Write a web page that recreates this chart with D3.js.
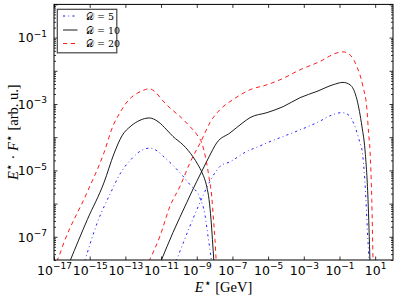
<!DOCTYPE html>
<html><head><meta charset="utf-8">
<script src="https://cdn.jsdelivr.net/npm/d3@7/dist/d3.min.js"></script>
<style>body{margin:0;background:#fff}svg{display:block}</style>
</head><body>
<svg id="c" width="399" height="301"></svg>
<script>
// ---- data (energy E* in GeV, E*·F* in arb. u.) ----
const seriesNames = ["\u{1D49F} = 5", "\u{1D49F} = 10", "\u{1D49F} = 20"];
const xTicks = [1e-17,1e-15,1e-13,1e-11,1e-9,1e-7,1e-5,1e-3,1e-1,1e1];
const yMajorTicks = [1,1e-1,1e-2,1e-3,1e-4,1e-5,1e-6,1e-7];
const yTickLabels = [1e-1,1e-3,1e-5,1e-7];

const d5Low = [[5.25e-16,1.82e-8],[2.69e-15,2.69e-7],[1.51e-14,2.14e-6],[5.50e-14,8.51e-6],[2.0e-13,2.09e-5],[8.51e-13,4.07e-5],[2.40e-12,4.68e-5],[5.89e-12,3.89e-5],[1.66e-11,2.40e-5],[1.15e-10,8.51e-6],[4.17e-10,3.72e-6],[1.51e-9,1.48e-6],[2.88e-9,4.68e-7],[4.27e-9,1.05e-7],[5.50e-9,4.17e-8],[6.76e-9,1.82e-8]];
const d5High = [[6.92e-11,1.82e-8],[4.17e-10,2.09e-7],[1.51e-9,1.07e-6],[5.50e-9,4.68e-6],[2.0e-8,1.32e-5],[7.41e-8,1.82e-5],[6.31e-7,3.72e-5],[2.69e-6,5.13e-5],[8.71e-6,6.76e-5],[6.92e-5,1.05e-4],[6.17e-4,1.66e-4],[5.50e-3,2.75e-4],[4.37e-2,4.79e-4],[0.135,5.50e-4],[0.302,4.79e-4],[0.741,2.09e-4],[1.41,6.76e-5],[1.82,4.17e-5],[2.69,4.27e-6],[3.98,6.76e-8],[4.57,1.82e-8]];
const d10Low = [[7.76e-17,1.82e-8],[7.41e-16,3.31e-7],[6.31e-15,4.27e-6],[2.29e-14,3.16e-5],[6.46e-14,1.10e-4],[2.09e-13,2.19e-4],[6.61e-13,3.24e-4],[2.19e-12,3.80e-4],[6.76e-12,2.95e-4],[2.09e-11,1.66e-4],[4.68e-11,1.05e-4],[1.70e-10,5.89e-5],[6.17e-10,2.57e-5],[1.17e-9,1.48e-5],[2.0e-9,8.51e-6],[3.63e-9,3.24e-6],[4.90e-9,1.32e-6],[6.31e-9,3.31e-7],[7.59e-9,8.32e-8],[9.12e-9,1.82e-8]];
const d10High = [[9.77e-12,1.82e-8],[4.68e-11,1.35e-7],[2.75e-10,1.07e-6],[1.0e-9,4.68e-6],[1.91e-9,9.33e-6],[4.90e-9,2.57e-5],[1.32e-8,6.76e-5],[7.41e-8,1.35e-4],[3.89e-7,2.75e-4],[9.77e-7,3.89e-4],[8.71e-6,5.50e-4],[6.92e-5,8.32e-4],[6.17e-4,1.55e-3],[5.50e-3,2.40e-3],[4.37e-2,3.80e-3],[0.158,4.47e-3],[0.389,3.80e-3],[0.955,1.35e-3],[1.82,2.09e-4],[2.69,4.17e-5],[3.98,1.32e-6],[5.13,1.82e-8]];
const d20Low = [[1.41e-17,1.82e-8],[1.91e-17,2.63e-8],[3.63e-17,6.76e-8],[7.08e-16,2.14e-6],[6.31e-15,3.39e-5],[2.04e-14,2.21e-4],[5.01e-14,5.50e-4],[1.41e-13,1.26e-3],[4.47e-13,2.09e-3],[9.77e-13,2.57e-3],[2.19e-12,2.88e-3],[4.57e-12,2.34e-3],[1.12e-11,1.35e-3],[3.16e-11,7.59e-4],[1.15e-10,4.22e-4],[4.17e-10,2.09e-4],[1.05e-9,1.17e-4],[2.0e-9,6.31e-5],[3.31e-9,2.09e-5],[4.90e-9,6.03e-6],[6.92e-9,1.66e-6],[8.71e-9,3.31e-7],[1.05e-8,8.32e-8],[1.23e-8,1.82e-8]];
const d20High = [[2.09e-12,1.82e-8],[8.71e-12,1.05e-7],[3.16e-11,8.32e-7],[1.15e-10,3.31e-6],[4.17e-10,1.70e-5],[1.91e-9,8.32e-5],[5.50e-9,2.75e-4],[2.0e-8,6.76e-4],[1.07e-7,1.35e-3],[9.77e-7,2.69e-3],[8.71e-6,3.80e-3],[4.68e-5,5.37e-3],[6.17e-4,1.07e-2],[8.13e-3,1.91e-2],[7.24e-2,3.47e-2],[0.158,3.72e-2],[0.389,3.02e-2],[0.955,1.32e-2],[2.09,3.31e-3],[3.47,6.76e-4],[4.27,1.35e-4],[5.13,4.17e-5],[6.46,1.32e-6],[7.59,1.82e-8]];

// ---- layout ----
const X0 = 54, X1 = 393, Y0 = 4.4, Y1 = 260;
const svg = d3.select("#c");
const x = d3.scaleLog().domain([1e-17, 1e2]).range([X0, X1]);
const y = d3.scaleLog().domain([2e-8, 1]).range([Y1, Y0]);

const styles = [
  {color: "#0000ff", dash: "2.2,3.2,0.8,3.2"},
  {color: "#000000", dash: null},
  {color: "#ff0000", dash: "4.2,3.6"}
];
const curves = [[d5Low, d5High], [d10Low, d10High], [d20Low, d20High]];

svg.append("defs").append("clipPath").attr("id", "pc")
  .append("rect").attr("x", X0).attr("y", Y0).attr("width", X1 - X0).attr("height", Y1 - Y0);

const line = d3.line().x(d => x(d[0])).y(d => y(d[1])).curve(d3.curveMonotoneX);
const gLines = svg.append("g").attr("clip-path", "url(#pc)");
curves.forEach((pair, i) => {
  pair.forEach(data => {
    gLines.append("path").attr("d", line(data)).attr("fill", "none")
      .attr("stroke", styles[i].color).attr("stroke-width", 0.9)
      .attr("stroke-dasharray", styles[i].dash);
  });
});

function supLabel(text, v) {
  const e = Math.round(Math.log10(v));
  text.text(null);
  text.append("tspan").text("10");
  text.append("tspan").attr("dy", -5.5).attr("font-size", 9).text((e < 0 ? "\u2212" : "") + Math.abs(e));
}

function styleAxis(g) {
  g.attr("font-family", "DejaVu Sans").attr("font-size", 12.5);
  g.select(".domain").remove();
  g.selectAll(".tick line").attr("stroke", "#000").attr("stroke-width", 0.8);
  g.selectAll(".tick text").attr("fill", "#000");
}

// bottom
const gb = svg.append("g").attr("transform", `translate(0,${Y1})`)
  .call(d3.axisBottom(x).tickValues(xTicks).tickSizeInner(-3.5).tickSizeOuter(0).tickPadding(0));
styleAxis(gb);
gb.selectAll(".tick text").attr("y", 14.5).attr("dy", null).each(function(d) { supLabel(d3.select(this), d); });
// top
const gt = svg.append("g").attr("transform", `translate(0,${Y0})`)
  .call(d3.axisTop(x).tickValues(xTicks).tickSizeInner(-3.5).tickSizeOuter(0).tickFormat(""));
styleAxis(gt);
// left
const gl = svg.append("g").attr("transform", `translate(${X0},0)`)
  .call(d3.axisLeft(y).tickValues(yMajorTicks).tickSizeInner(-3.5).tickSizeOuter(0).tickPadding(0).tickFormat(""));
styleAxis(gl);
gl.selectAll(".tick text").attr("x", -7).attr("dy", "0.34em")
  .each(function(d) { if (yTickLabels.includes(d)) supLabel(d3.select(this), d); });
// right
const gr = svg.append("g").attr("transform", `translate(${X1},0)`)
  .call(d3.axisRight(y).tickValues(yMajorTicks).tickSizeInner(-3.5).tickSizeOuter(0).tickFormat(""));
styleAxis(gr);
// minor y ticks
const yMinor = [];
for (let k = -8; k < 0; k++) for (let m = 2; m <= 9; m++) { const v = m * Math.pow(10, k); if (v >= 2e-8 && v <= 1) yMinor.push(v); }
[[d3.axisLeft, X0], [d3.axisRight, X1]].forEach(([ax, tx]) => {
  const g = svg.append("g").attr("transform", `translate(${tx},0)`)
    .call(ax(y).tickValues(yMinor).tickSizeInner(-2).tickSizeOuter(0).tickFormat(""));
  styleAxis(g);
});

// frame
svg.append("rect").attr("x", X0).attr("y", Y0).attr("width", X1 - X0).attr("height", Y1 - Y0)
  .attr("fill", "none").attr("stroke", "#000").attr("stroke-width", 1);

// axis labels
const xl = svg.append("text").attr("x", (X0 + X1) / 2).attr("y", 292).attr("text-anchor", "middle")
  .attr("font-family", "Liberation Serif").attr("font-size", 14.5).attr("fill", "#000");
xl.append("tspan").attr("font-style", "italic").text("E");
xl.append("tspan").attr("dy", -5.5).attr("font-size", 12).text("\u22C6");
xl.append("tspan").attr("dy", 5.5).text(" [GeV]");

const yl = svg.append("text").attr("transform", `translate(18,${(Y0 + Y1) / 2}) rotate(-90)`)
  .attr("text-anchor", "middle").attr("font-family", "Liberation Serif").attr("font-size", 14.5).attr("fill", "#000");
yl.append("tspan").attr("font-style", "italic").text("E");
yl.append("tspan").attr("dy", -5.5).attr("font-size", 12).text("\u22C6");
yl.append("tspan").attr("dy", 5.5).text(" \u00B7 ");
yl.append("tspan").attr("font-style", "italic").text("F");
yl.append("tspan").attr("dy", -5.5).attr("font-size", 12).text("\u22C6");
yl.append("tspan").attr("dy", 5.5).text(" [arb. u.]");

// legend
const lg = svg.append("g");
lg.append("rect").attr("x", 57.3).attr("y", 9.3).attr("width", 59.5).attr("height", 43.5)
  .attr("fill", "#fff").attr("stroke", "#444").attr("stroke-width", 1.2);
const rowY = [16, 30, 43.5];
seriesNames.forEach((name, i) => {
  lg.append("line").attr("x1", 63).attr("x2", 77.5).attr("y1", rowY[i]).attr("y2", rowY[i])
    .attr("stroke", styles[i].color).attr("stroke-width", 0.9).attr("stroke-dasharray", styles[i].dash);
  lg.append("text").attr("x", 86).attr("y", rowY[i] + 3.5).attr("font-family", "DejaVu Serif")
    .attr("font-size", 9.5).attr("fill", "#000").text(name);
});
</script>
</body></html>
